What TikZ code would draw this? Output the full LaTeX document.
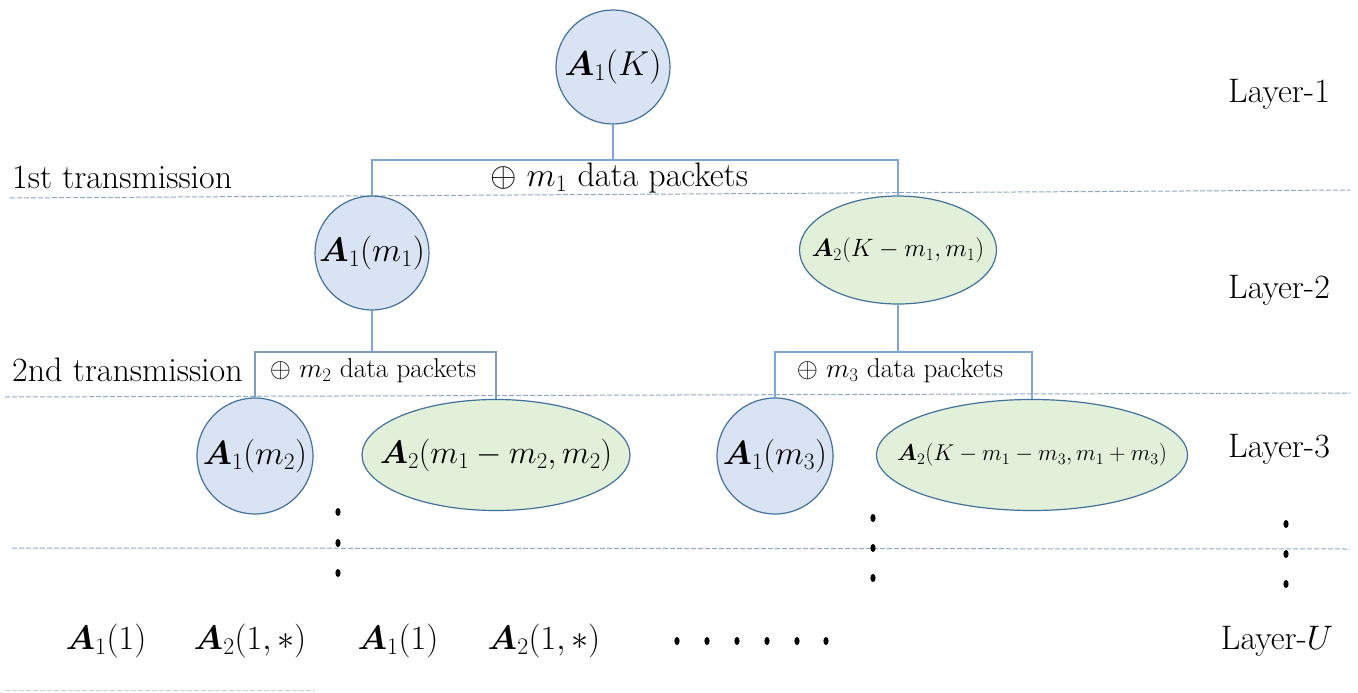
\RequirePackage{fix-cm}
\documentclass[tikz,border=0pt]{standalone}
\usepackage{amsmath,bm}
\usetikzlibrary{shapes.geometric}
\definecolor{nodeblue}{HTML}{DAE3F3}
\definecolor{nodegreen}{HTML}{E2F0D9}
\definecolor{edgeblue}{HTML}{41719C}
\definecolor{connblue}{HTML}{7FA7D6}
\definecolor{dashcol}{HTML}{8DA9C4}
\tikzset{
  x=1pt, y=-1pt,
  bnode/.style={circle, draw=edgeblue, line width=1.2pt, fill=nodeblue, inner sep=0pt, minimum size=114pt},
  gnode/.style={ellipse, draw=edgeblue, line width=1.2pt, fill=nodegreen, inner sep=0pt},
  inlbl/.style 2 args={label={[font=\fontsize{#1}{#1}\selectfont, inner sep=0pt]center:{#2}}},
  conn/.style={draw=connblue, line width=1.1pt},
  layerline/.style={draw=dashcol, dashed, dash pattern=on 5pt off 2pt, line width=1pt},
  lbl/.style={font=\fontsize{34}{40}\selectfont, inner sep=0pt},
  mlbl/.style={font=\fontsize{34}{40}\selectfont, inner sep=0pt},
  slbl/.style={font=\fontsize{27.2}{31}\selectfont, inner sep=0pt},
  vdot/.style={fill=black, draw=none}
}
\begin{document}
\begin{tikzpicture}
\useasboundingbox (0,0) rectangle (1358,693);
% layer separators
\draw[layerline] (10,198) -- (1350,190);
\draw[layerline] (5,397) -- (1350,393);
\draw[layerline] (12,548) -- (1350,549);
\draw[layerline, draw=dashcol!50] (5,690) -- (315,690);

% nodes
\node[bnode, inlbl={34.5}{$\bm{A}_1(K)$}] (aK) at (613,67) {};
\node[bnode, inlbl={34}{$\bm{A}_1(m_1)$}] (a1m1) at (372,253) {};
\node[gnode, minimum width=197pt, minimum height=108pt, inlbl={25.1}{$\bm{A}_2(K-m_1,m_1)$}] (a2m1) at (898,250) {};
\node[bnode, minimum size=116pt, inlbl={33.5}{$\bm{A}_1(m_2)$}] (a1m2) at (255,456) {};
\node[gnode, minimum width=268pt, minimum height=111pt, inlbl={32.5}{$\bm{A}_2(m_1-m_2,m_2)$}] (a2m2) at (496,455) {};
\node[bnode, minimum size=116pt, inlbl={33.5}{$\bm{A}_1(m_3)$}] (a1m3) at (775,456) {};
\node[gnode, minimum width=311pt, minimum height=111pt, inlbl={22.9}{$\bm{A}_2(K-m_1-m_3,m_1+m_3)$}] (a2m3) at (1032,455) {};

% bracket 1
\coordinate (j1) at (613,160);
\draw[conn] (aK.south) -- (j1);
\draw[conn] (a1m1.north) |- (j1) -| (a2m1.north);
\node[font=\fontsize{34}{40}\selectfont, inner sep=0pt] (p1) at (619,178) {$\oplus\ m_1$ data packets};

% bracket 2
\coordinate (j2) at (372,352);
\draw[conn] (a1m1.south) -- (j2);
\draw[conn, draw=connblue!70!gray] (a1m2.north) |- (j2) -| (a2m2.north);
\node[slbl] (p2) at (373,371) {$\oplus\ m_2$ data packets};

% bracket 3
\coordinate (j3) at (898,352);
\draw[conn] (a2m1.south) -- (j3);
\draw[conn] (a1m3.north) |- (j3) -| (a2m3.north);
\node[slbl] (p3) at (900,371) {$\oplus\ m_3$ data packets};

% left labels
\node[lbl, anchor=west] (t1) at (12,177) {1st transmission};
\node[lbl, anchor=west] (t2) at (12,370) {2nd transmission};

% layer labels
\node[lbl] (L1) at (1279,94) {Layer-1};
\node[lbl] (L2) at (1279,290) {Layer-2};
\node[lbl] (L3) at (1279,449) {Layer-3};
\node[lbl] (LU) at (1277,641) {Layer-$U$};

% vertical dots
\foreach \x/\y in {338/512, 338/543, 338/573, 873/518, 873/548, 873/578, 1286/524, 1286/554, 1286/584}
  \fill[vdot] (\x,\y) ellipse [x radius=2.6, y radius=4];

% bottom row
\node[mlbl] (b1) at (106,641) {$\bm{A}_1(1)$};
\node[mlbl] (b2) at (250,641) {$\bm{A}_2(1,*)$};
\node[mlbl] (b3) at (398,641) {$\bm{A}_1(1)$};
\node[mlbl] (b4) at (544,641) {$\bm{A}_2(1,*)$};
\foreach \x in {677,707,737,767,797,826}
  \fill[vdot] (\x,641) ellipse [x radius=2.6, y radius=4];
\end{tikzpicture}
\end{document}
